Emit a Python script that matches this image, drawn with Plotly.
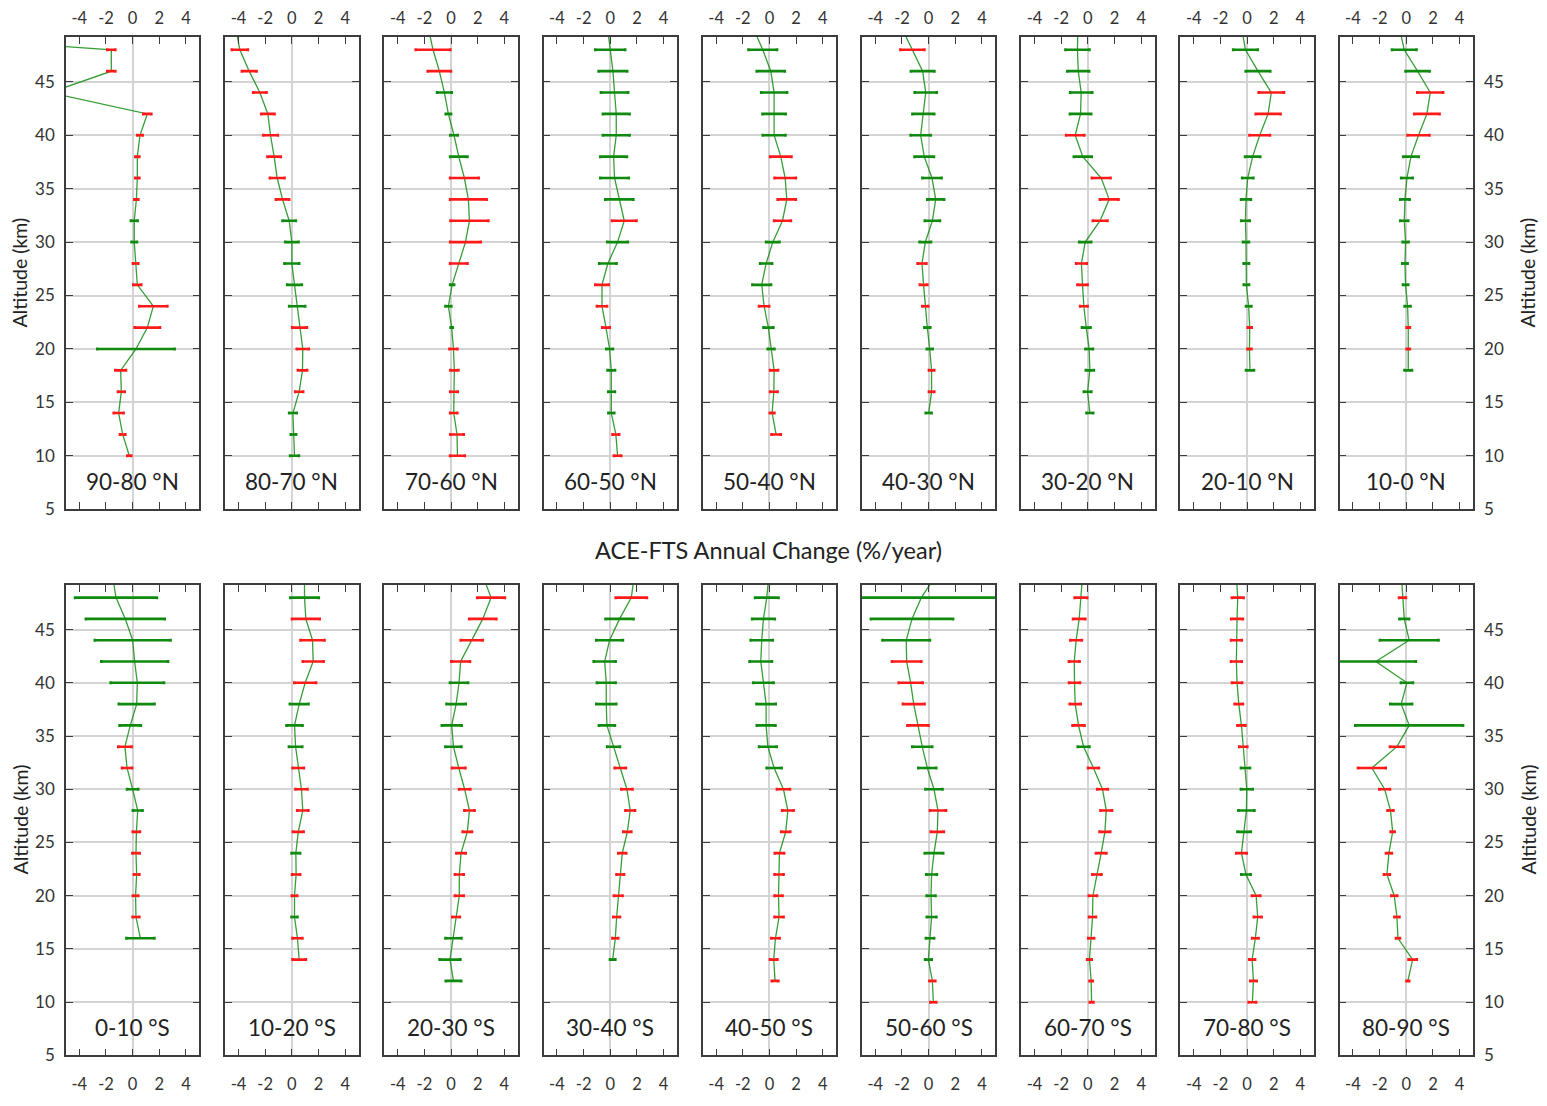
import plotly.graph_objects as go

# Altitudes (km) of the retrieved levels, top to bottom
ALT = [48, 46, 44, 42, 40, 38, 36, 34, 32, 30, 28, 26, 24, 22, 20, 18, 16, 14, 12, 10]
TOP_ALT = 50  # line continues above the plotted range

LABELS = ["90-80 °N", "80-70 °N", "70-60 °N", "60-50 °N", "50-40 °N",
          "40-30 °N", "30-20 °N", "20-10 °N", "10-0 °N",
          "0-10 °S", "10-20 °S", "20-30 °S", "30-40 °S", "40-50 °S",
          "50-60 °S", "60-70 °S", "70-80 °S", "80-90 °S"]

N = None
# Annual change (%/year) per latitude band, values at ALT
VALS = [
    [-1.6, -1.6, -6.2, 1.1, 0.55, 0.35, 0.35, 0.28, 0.12, 0.12, 0.22, 0.35, 1.55, 1.1, 0.25, -0.9, -0.85, -1.05, -0.75, -0.25],
    [-3.9, -3.2, -2.4, -1.8, -1.6, -1.33, -1.1, -0.7, -0.2, 0.0, 0.0, 0.2, 0.4, 0.58, 0.82, 0.8, 0.55, 0.08, 0.12, 0.2],
    [-1.35, -0.88, -0.5, -0.2, 0.22, 0.58, 1.0, 1.3, 1.38, 1.08, 0.58, 0.08, -0.2, 0.05, 0.18, 0.25, 0.22, 0.2, 0.45, 0.48],
    [0.0, 0.2, 0.32, 0.45, 0.45, 0.25, 0.32, 0.68, 1.05, 0.55, -0.18, -0.62, -0.62, -0.32, -0.05, 0.08, 0.1, 0.08, 0.42, 0.55],
    [-0.5, 0.1, 0.35, 0.35, 0.35, 0.85, 1.18, 1.3, 0.98, 0.25, -0.25, -0.58, -0.4, -0.08, 0.12, 0.35, 0.33, 0.2, 0.5, N],
    [-1.22, -0.45, -0.22, -0.4, -0.6, -0.33, 0.25, 0.53, 0.28, -0.25, -0.5, -0.38, -0.25, -0.1, 0.08, 0.22, 0.22, 0.0, N, N],
    [-0.78, -0.72, -0.5, -0.55, -0.95, -0.38, 1.0, 1.6, 0.92, -0.2, -0.48, -0.4, -0.3, -0.12, 0.1, 0.15, -0.02, 0.15, N, N],
    [-0.12, 0.82, 1.82, 1.58, 0.95, 0.42, 0.05, -0.08, -0.12, -0.08, -0.05, -0.05, 0.12, 0.2, 0.18, 0.22, N, N, N, N],
    [-0.15, 0.85, 1.8, 1.55, 0.92, 0.35, 0.05, -0.1, -0.15, -0.05, -0.1, -0.05, 0.1, 0.15, 0.15, 0.15, N, N, N, N],
    [-1.25, -0.55, 0.0, 0.15, 0.35, 0.3, -0.18, -0.58, -0.42, 0.0, 0.38, 0.28, 0.25, 0.3, 0.22, 0.25, 0.58, N, N, N],
    [0.95, 1.05, 1.55, 1.6, 1.0, 0.55, 0.2, 0.28, 0.48, 0.72, 0.82, 0.48, 0.3, 0.32, 0.2, 0.2, 0.42, 0.55, N, N],
    [3.0, 2.38, 1.55, 0.72, 0.6, 0.38, 0.05, 0.18, 0.58, 1.02, 1.38, 1.22, 0.75, 0.62, 0.62, 0.38, 0.18, -0.08, 0.18, N],
    [1.58, 0.7, -0.05, -0.42, -0.3, -0.3, -0.25, 0.25, 0.75, 1.25, 1.5, 1.28, 0.9, 0.75, 0.6, 0.48, 0.38, 0.18, N, N],
    [-0.2, -0.45, -0.58, -0.65, -0.45, -0.25, -0.25, -0.12, 0.35, 1.05, 1.38, 1.22, 0.75, 0.72, 0.68, 0.72, 0.45, 0.32, 0.42, N],
    [-0.55, -1.25, -1.68, -1.65, -1.35, -1.12, -0.8, -0.48, -0.1, 0.4, 0.7, 0.65, 0.4, 0.22, 0.18, 0.22, 0.1, -0.02, 0.28, 0.35],
    [-0.52, -0.65, -0.88, -1.02, -1.0, -0.95, -0.7, -0.32, 0.42, 1.1, 1.38, 1.28, 1.0, 0.68, 0.38, 0.35, 0.25, 0.12, 0.25, 0.28],
    [-0.7, -0.75, -0.8, -0.8, -0.75, -0.62, -0.42, -0.28, -0.12, -0.02, -0.05, -0.22, -0.42, -0.08, 0.68, 0.8, 0.62, 0.38, 0.48, 0.4],
    [-0.28, -0.15, 0.22, -2.28, 0.05, -0.38, 0.22, -0.7, -2.58, -1.62, -1.18, -1.02, -1.3, -1.45, -0.9, -0.7, -0.62, 0.48, 0.12, N],
]

# Uncertainty (%/year)
ERRS = [
    [0.3, 0.3, 0.5, 0.3, 0.2, 0.15, 0.15, 0.15, 0.25, 0.2, 0.2, 0.3, 1.05, 0.95, 2.9, 0.4, 0.25, 0.37, 0.2, 0.15],
    [0.6, 0.55, 0.5, 0.5, 0.55, 0.5, 0.55, 0.5, 0.5, 0.5, 0.55, 0.55, 0.6, 0.55, 0.45, 0.35, 0.3, 0.28, 0.2, 0.33],
    [1.3, 0.87, 0.55, 0.2, 0.28, 0.65, 1.07, 1.37, 1.42, 1.15, 0.65, 0.15, 0.22, 0.08, 0.3, 0.3, 0.28, 0.27, 0.5, 0.55],
    [1.12, 1.07, 1.02, 1.0, 1.0, 1.0, 1.07, 1.05, 0.92, 0.77, 0.65, 0.5, 0.38, 0.28, 0.25, 0.28, 0.25, 0.22, 0.25, 0.27],
    [1.07, 1.05, 0.97, 0.87, 0.85, 0.8, 0.8, 0.68, 0.63, 0.5, 0.45, 0.7, 0.38, 0.37, 0.25, 0.3, 0.28, 0.17, 0.35, N],
    [0.9, 0.88, 0.83, 0.82, 0.75, 0.73, 0.72, 0.63, 0.57, 0.43, 0.33, 0.28, 0.22, 0.22, 0.22, 0.2, 0.2, 0.22, N, N],
    [0.9, 0.82, 0.83, 0.8, 0.68, 0.67, 0.7, 0.7, 0.55, 0.45, 0.4, 0.38, 0.28, 0.32, 0.28, 0.3, 0.28, 0.25, N, N],
    [0.92, 0.92, 0.95, 0.93, 0.77, 0.57, 0.42, 0.37, 0.32, 0.22, 0.2, 0.2, 0.2, 0.15, 0.15, 0.3, N, N, N, N],
    [0.92, 0.9, 0.97, 0.95, 0.82, 0.58, 0.43, 0.35, 0.3, 0.22, 0.2, 0.2, 0.22, 0.12, 0.12, 0.28, N, N, N, N],
    [3.07, 2.96, 2.84, 2.5, 2.0, 1.34, 0.8, 0.5, 0.38, 0.42, 0.36, 0.27, 0.27, 0.2, 0.2, 0.25, 1.05, N, N, N],
    [1.07, 1.04, 0.9, 0.78, 0.82, 0.7, 0.6, 0.5, 0.42, 0.45, 0.42, 0.4, 0.32, 0.3, 0.2, 0.22, 0.37, 0.5, N, N],
    [1.04, 1.02, 0.82, 0.7, 0.68, 0.72, 0.74, 0.6, 0.5, 0.42, 0.38, 0.35, 0.35, 0.33, 0.33, 0.28, 0.6, 0.78, 0.58, N],
    [1.17, 1.05, 1.0, 0.82, 0.7, 0.75, 0.6, 0.48, 0.42, 0.42, 0.36, 0.3, 0.3, 0.28, 0.32, 0.25, 0.22, 0.2, N, N],
    [0.88, 0.85, 0.83, 0.84, 0.76, 0.72, 0.7, 0.66, 0.56, 0.49, 0.43, 0.34, 0.35, 0.34, 0.3, 0.34, 0.31, 0.28, 0.25, N],
    [6.0, 3.08, 1.78, 1.1, 0.9, 0.81, 0.79, 0.75, 0.67, 0.64, 0.6, 0.49, 0.69, 0.4, 0.33, 0.36, 0.31, 0.25, 0.22, 0.22],
    [0.47, 0.46, 0.43, 0.4, 0.41, 0.41, 0.45, 0.44, 0.41, 0.4, 0.43, 0.4, 0.39, 0.34, 0.31, 0.26, 0.22, 0.17, 0.12, 0.14],
    [0.44, 0.44, 0.4, 0.4, 0.38, 0.31, 0.3, 0.3, 0.34, 0.44, 0.6, 0.5, 0.39, 0.35, 0.31, 0.29, 0.24, 0.22, 0.24, 0.28],
    [0.26, 0.36, 2.2, 3.0, 0.45, 0.82, 4.04, 0.52, 1.04, 0.4, 0.22, 0.15, 0.22, 0.22, 0.22, 0.19, 0.15, 0.31, 0.1, N],
]

# Significance flags per level: R = significant (red), G = not significant (green)
SIG = [
    "RRRRRRRRGGRRRRGRRRRR",
    "RRRRRRRRGGGGGRRRRGGG",
    "RRGGGGRRRRRGGGRRRRRR",
    "GGGGGGGGRGGRRRGGGGRR",
    "GGGGGRRRRGGGRGGRRRR-",
    "RGGGGGGGGGRRRGGRRG--",
    "GGGGRGRRRGRRRGGGGG--",
    "GGRRRGGGGGGGGRRG----",
    "GGRRRGGGGGGGGRRG----",
    "GGGGGGGRRGGRRRRRG---",
    "GRRRRGGGRRRRGRRGRR--",
    "RRRRGGGGRRRRRRRRGGG-",
    "RGGGGGGGRRRRRRRRRG--",
    "GGGGGGGGGRRRRRRRRRR-",
    "GGGRRRRGGGRRGGGGGGRR",
    "RRRRRRRGRRRRRRRRRRRR",
    "RRRRRRRRGGGGRGRRRRRR",
    "RGGGGGGRRRRRRRRRRRR-",
]

# Line continuation value at TOP_ALT (outside shown range)
TOP_VALS = [-25, -4.2, -1.7, -0.2, -1.2, -2.0, -0.75, -0.4, -0.5,
            -1.5, 0.95, 2.4, 1.8, -0.05, 0.5, -0.4, -0.8, -0.36]

XTICKS = [-4, -2, 0, 2, 4]
YTICKS = [5, 10, 15, 20, 25, 30, 35, 40, 45]

# page offset (browser body margin) compensated: figure pixel = reference pixel - OFF
OFF = 8
W, H = 1547 - 2 * OFF, 1106 - 2 * OFF
FONT = "Lato"
LINE_GREEN = "rgba(20,140,20,0.85)"
BAR_GREEN = "#0f8a0f"
BAR_RED = "#ff1a1a"
AXC = "#3c3c3c"
GRIDC = "#d4d4d4"
TXT = "#222222"


def px(xr):
    return (xr - OFF) / W


def py(yr):
    return 1 - (yr - OFF) / H


fig = go.Figure()

PANEL_LEFT0 = 66.0
PANEL_STEP = 159.2
PANEL_W = 133.3
ROW_Y = [(33.3, 511.7), (588.3, 1065.0)]

layout = {}
annotations = []
for k in range(18):
    row = k // 9
    col = k % 9
    idx = k + 1
    xa = "x" if idx == 1 else f"x{idx}"
    ya = "y" if idx == 1 else f"y{idx}"
    xk = "xaxis" if idx == 1 else f"xaxis{idx}"
    yk = "yaxis" if idx == 1 else f"yaxis{idx}"

    left = PANEL_LEFT0 + col * PANEL_STEP
    x0, x1 = px(left), px(left + PANEL_W)
    top, bot = ROW_Y[row]
    y0, y1 = py(bot), py(top)

    vals = VALS[k]
    errs = ERRS[k]
    sig = SIG[k]

    # profile line
    lx = [TOP_VALS[k]] + [v for v in vals if v is not None]
    ly = [TOP_ALT] + [a for a, v in zip(ALT, vals) if v is not None]
    fig.add_trace(go.Scatter(x=lx, y=ly, mode="lines", xaxis=xa, yaxis=ya,
                             line=dict(color=LINE_GREEN, width=1.3),
                             showlegend=False, hoverinfo="skip"))

    for flag, color in (("G", BAR_GREEN), ("R", BAR_RED)):
        bx = [v for v, s in zip(vals, sig) if s == flag and v is not None]
        by = [a for a, v, s in zip(ALT, vals, sig) if s == flag and v is not None]
        be = [e for v, e, s in zip(vals, errs, sig) if s == flag and v is not None]
        if not bx:
            continue
        fig.add_trace(go.Scatter(
            x=bx, y=by, mode="markers", xaxis=xa, yaxis=ya,
            marker=dict(size=1, color="rgba(0,0,0,0)"),
            error_x=dict(type="data", array=be, symmetric=True,
                         color=color, thickness=2.6, width=1.5),
            showlegend=False, hoverinfo="skip"))

    layout[xk] = dict(
        domain=[x0, x1], anchor=ya, range=[-5, 5],
        tickvals=XTICKS, ticktext=[str(t) for t in XTICKS],
        side="top" if row == 0 else "bottom",
        ticks="inside", ticklen=7, tickwidth=1.3, tickcolor=AXC,
        showline=True, linecolor=AXC, linewidth=1.5, mirror="ticks",
        showgrid=False, zeroline=True, zerolinecolor=GRIDC, zerolinewidth=1.5,
        tickfont=dict(family=FONT, size=16.5, color="#333333"),
        ticklabelstandoff=5 if row == 0 else 13,
        fixedrange=True,
    )
    show_left = (col == 0)
    show_right = (col == 8)
    layout[yk] = dict(
        domain=[y0, y1], anchor=xa, range=[5, 49.2],
        tickvals=YTICKS, ticktext=[str(t) for t in YTICKS],
        side="right" if show_right else "left",
        showticklabels=show_left or show_right,
        ticks="inside", ticklen=7, tickwidth=1.3, tickcolor=AXC,
        showline=True, linecolor=AXC, linewidth=1.5, mirror="ticks",
        showgrid=True, gridcolor=GRIDC, gridwidth=1.5, zeroline=False,
        tickfont=dict(family=FONT, size=17, color="#333333"),
        ticklabelstandoff=6,
        fixedrange=True,
    )
    annotations.append(dict(
        x=0, y=7.6, xref=xa, yref=ya, text=LABELS[k], showarrow=False,
        font=dict(family=FONT, size=22.5, color=TXT),
        xanchor="center", yanchor="middle"))

annotations.append(dict(
    x=px(768), y=py(553), xref="paper", yref="paper",
    text="ACE-FTS Annual Change (%/year)", showarrow=False,
    font=dict(family=FONT, size=23.5, color=TXT),
    xanchor="center", yanchor="middle"))
for (cx, cy) in ((20, 272), (20, 826), (1528, 272), (1528, 826)):
    annotations.append(dict(
        x=px(cx), y=py(cy), xref="paper", yref="paper",
        text="Altitude (km)", showarrow=False, textangle=-90,
        font=dict(family=FONT, size=19.5, color=TXT),
        xanchor="center", yanchor="middle"))

fig.update_layout(
    width=W, height=H,
    margin=dict(l=0, r=0, t=0, b=0),
    paper_bgcolor="white", plot_bgcolor="white",
    annotations=annotations,
    **layout,
)

fig.write_html("out.html")
